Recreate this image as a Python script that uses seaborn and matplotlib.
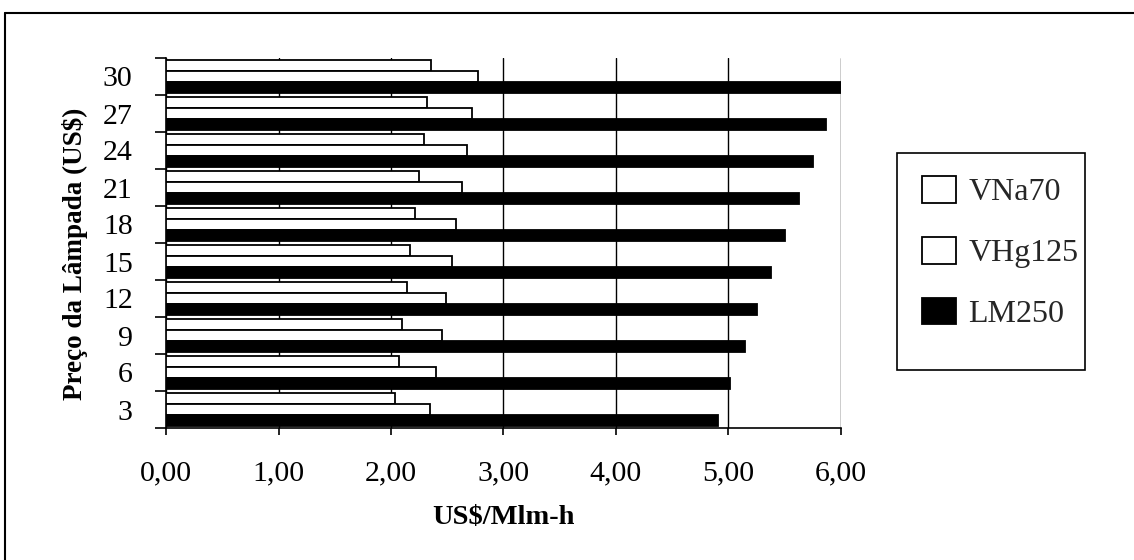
import numpy as np
import pandas as pd
import matplotlib
matplotlib.use("Agg")
import matplotlib.pyplot as plt
import seaborn as sns
from matplotlib.ticker import FuncFormatter
from matplotlib.patches import Patch, Rectangle
from matplotlib.lines import Line2D

# ---- data ----
prices = [3, 6, 9, 12, 15, 18, 21, 24, 27, 30]
vna70 = [2.04, 2.07, 2.10, 2.14, 2.17, 2.21, 2.25, 2.29, 2.32, 2.36]
vhg125 = [2.35, 2.40, 2.45, 2.49, 2.54, 2.58, 2.63, 2.68, 2.72, 2.77]
lm250 = [4.91, 5.01, 5.15, 5.25, 5.38, 5.50, 5.63, 5.75, 5.87, 6.00]
series_names = ["VNa70", "VHg125", "LM250"]
x_ticks = [0, 1, 2, 3, 4, 5, 6]

rows = []
for name, vals in zip(series_names, [vna70, vhg125, lm250]):
    for p, v in zip(prices, vals):
        rows.append({"preco": str(p), "valor": v, "serie": name})
df = pd.DataFrame(rows)

sns.set_theme(style="white")
plt.rcParams["font.family"] = ["Liberation Serif", "DejaVu Serif"]

W, H = 1134, 560
fig = plt.figure(figsize=(W / 100, H / 100), dpi=100)
ax = fig.add_axes([166 / W, 1 - 428 / H, (841 - 166) / W, (428 - 58) / H])

order = [str(p) for p in prices[::-1]]
palette = {"VNa70": "white", "VHg125": "white", "LM250": "black"}
sns.barplot(data=df, x="valor", y="preco", hue="serie", order=order,
            hue_order=series_names, palette=palette, orient="h",
            width=0.9, gap=0, edgecolor="black", linewidth=1.3,
            saturation=1, ax=ax, legend=False, zorder=3)

ax.set_xlim(0, 6)
ax.set_xticks(x_ticks)
ax.xaxis.set_major_formatter(FuncFormatter(lambda v, p: f"{v:.2f}".replace(".", ",")))
ax.grid(axis="x", color="black", linewidth=1.0, zorder=0)
ax.set_axisbelow(True)

for s in ["top", "right"]:
    ax.spines[s].set_visible(False)
for s in ["left", "bottom"]:
    ax.spines[s].set_visible(True)
    ax.spines[s].set_color("black")
    ax.spines[s].set_linewidth(1.2)

# y ticks: labels at centers, marks at boundaries
ax.tick_params(axis="y", which="major", length=0, pad=24, labelsize=21.5, labelcolor="black")
ax.set_yticks(np.arange(-0.5, len(order), 1.0), minor=True)
ax.tick_params(axis="y", which="minor", length=8, width=1.2, color="black", left=True, direction="out")
ax.tick_params(axis="x", which="major", length=5, width=1.2, color="black", bottom=True,
               direction="out", pad=18, labelsize=21.5, labelcolor="black")

ax.set_ylabel("Preço da Lâmpada (US$)", fontsize=19.5, fontweight="bold", color="black")
ax.yaxis.set_label_coords(-0.135, 0.47)
ax.yaxis.label.set_va("center")
ax.set_xlabel("US$/Mlm-h", fontsize=20.5, fontweight="bold", color="black")
ax.xaxis.set_label_coords(0.5, -0.243)
ax.xaxis.label.set_va("center")

# legend frame drawn as a rectangle, entries without frame
fig.add_artist(Rectangle((897 / W, 1 - 370 / H), (1085 - 897) / W, (370 - 153) / H,
                         transform=fig.transFigure, facecolor="white", edgecolor="black",
                         linewidth=1.2, zorder=4))
handles = [Patch(facecolor=palette[n], edgecolor="black", linewidth=1.3, label=n) for n in series_names]
leg = fig.legend(handles=handles, loc="upper left",
                 bbox_to_anchor=(922 / W, 1 - 176 / H),
                 fontsize=23, frameon=False,
                 handlelength=1.05, handleheight=0.9, handletextpad=0.4,
                 labelspacing=0.93, borderpad=0, borderaxespad=0)
leg.set_zorder(5)

# chart-area border (top and left visible)
fig.add_artist(Line2D([5 / W, 1.0], [1 - 13 / H, 1 - 13 / H], color="black", linewidth=1.5))
fig.add_artist(Line2D([5 / W, 5 / W], [0.0, 1 - 13 / H], color="black", linewidth=1.5))

fig.savefig("out.png", dpi=100)
